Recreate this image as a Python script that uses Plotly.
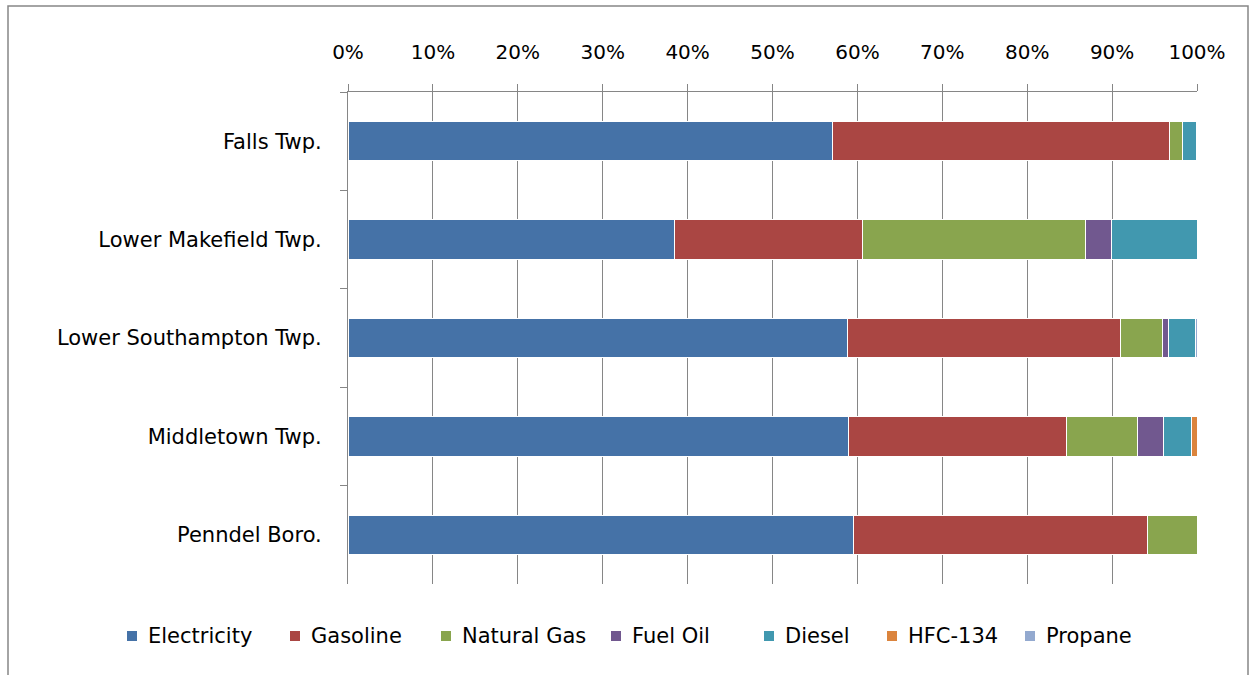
import plotly.graph_objects as go

# Share of municipal energy use by fuel type (percent of total)
municipalities = ["Falls Twp.", "Lower Makefield Twp.", "Lower Southampton Twp.",
                  "Middletown Twp.", "Penndel Boro."]

electricity = [57.1, 38.5, 58.8, 59.0, 59.5]
gasoline = [39.7, 22.1, 32.2, 25.6, 34.7]
natural_gas = [1.5, 26.3, 4.9, 8.4, 5.8]
fuel_oil = [0.0, 3.0, 0.8, 3.1, 0.0]
diesel = [1.6, 10.1, 3.1, 3.2, 0.0]
hfc_134 = [0.0, 0.0, 0.0, 0.7, 0.0]
propane = [0.1, 0.0, 0.2, 0.0, 0.0]

tick_values = [0, 10, 20, 30, 40, 50, 60, 70, 80, 90, 100]
tick_labels = ["0%", "10%", "20%", "30%", "40%", "50%", "60%", "70%", "80%", "90%", "100%"]

series = [
    ("Electricity", electricity, "#4572A7"),
    ("Gasoline", gasoline, "#AA4643"),
    ("Natural Gas", natural_gas, "#89A54E"),
    ("Fuel Oil", fuel_oil, "#71588F"),
    ("Diesel", diesel, "#4198AF"),
    ("HFC-134", hfc_134, "#DB843D"),
    ("Propane", propane, "#93A9CF"),
]

FONT = "DejaVu Sans, sans-serif"
GRID = "#868686"
W, H = 1252, 675
M_L, M_R, M_T, M_B = 348, 55, 92, 91
PLOT_W = W - M_L - M_R
PLOT_H = H - M_T - M_B


def px_to_paper_x(px):
    return (px - M_L) / PLOT_W


def px_to_paper_y(py):
    return (H - M_B - py) / PLOT_H


fig = go.Figure()
for name, values, color in series:
    fig.add_trace(go.Bar(
        name=name,
        y=municipalities,
        x=values,
        orientation="h",
        marker=dict(color=color, line=dict(color="#FFFFFF", width=1)),
        width=0.4,
        showlegend=False,
    ))

# Legend row beneath the plot: swatch + label for each fuel type
legend_left_px = [127, 290, 441, 611, 764, 887, 1025]
legend_row_px = 636
swatch = 10
shapes = [
    dict(type="rect", xref="paper", yref="paper",
         x0=px_to_paper_x(8), x1=px_to_paper_x(1248),
         y0=px_to_paper_y(690), y1=px_to_paper_y(6),
         line=dict(color=GRID, width=1.5), layer="below"),
]
annotations = []
for (name, _, color), left in zip(series, legend_left_px):
    shapes.append(dict(
        type="rect", xref="paper", yref="paper",
        x0=px_to_paper_x(left), x1=px_to_paper_x(left + swatch),
        y0=px_to_paper_y(legend_row_px + swatch / 2),
        y1=px_to_paper_y(legend_row_px - swatch / 2),
        fillcolor=color, line=dict(width=0),
    ))
    annotations.append(dict(
        xref="paper", yref="paper",
        x=px_to_paper_x(left + swatch + 9), y=px_to_paper_y(legend_row_px),
        xanchor="left", yanchor="middle", showarrow=False,
        text=name, font=dict(family=FONT, size=21, color="#000000"),
    ))

fig.update_layout(
    barmode="stack",
    barnorm="percent",
    width=W,
    height=H,
    margin=dict(l=M_L, r=M_R, t=M_T, b=M_B),
    paper_bgcolor="white",
    plot_bgcolor="white",
    showlegend=False,
    font=dict(family=FONT, size=21, color="#000000"),
    xaxis=dict(
        side="top",
        range=[0, 100],
        tickvals=tick_values,
        ticktext=tick_labels,
        tickfont=dict(size=20),
        showgrid=True,
        gridcolor=GRID,
        gridwidth=1,
        showline=True,
        linecolor=GRID,
        linewidth=1,
        ticks="outside",
        ticklen=7,
        tickcolor=GRID,
        ticklabelstandoff=17,
        zeroline=False,
        fixedrange=True,
    ),
    yaxis=dict(
        autorange="reversed",
        showline=True,
        linecolor=GRID,
        linewidth=1,
        ticks="outside",
        tickson="boundaries",
        ticklen=7,
        tickcolor=GRID,
        ticklabelstandoff=21,
        tickfont=dict(size=21),
        showgrid=False,
        fixedrange=True,
    ),
    shapes=shapes,
    annotations=annotations,
)

fig.write_html("out.html")
